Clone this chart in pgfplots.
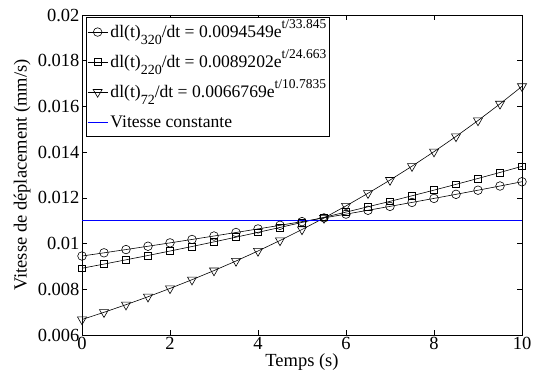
\documentclass[border=0pt]{standalone}
\usepackage{pgfplots}
\pgfplotsset{compat=1.18}
\usepackage{fontspec}
\setmainfont{Liberation Serif}
\newcommand{\sub}[1]{\raisebox{-0.42em}{\fontsize{14}{14}\selectfont #1}}
\newcommand{\sups}[1]{\raisebox{0.5em}{\fontsize{13.5}{14}\selectfont #1}}
\begin{document}
\begin{tikzpicture}
\path (0pt,0pt) rectangle (538pt,376pt);
\begin{axis}[
  at={(82pt,41pt)}, anchor=south west,
  scale only axis, width=440pt, height=320pt,
  xmin=0, xmax=10, ymin=0.006, ymax=0.02,
  xtick={0,2,4,6,8,10},
  ytick={0.006,0.008,0.01,0.012,0.014,0.016,0.018,0.02},
  yticklabels={0.006,0.008,0.01,0.012,0.014,0.016,0.018,0.02},
  scaled y ticks=false,
  tick align=inside, major tick length=5pt,
  tick style={black, line width=0.6pt},
  axis line style={line width=0.9pt},
  /pgf/number format/assume math mode=true,
  tick label style={font=\fontsize{18.5}{20}\selectfont},
  xticklabel style={yshift=1pt},
  yticklabel style={xshift=1pt},
  xlabel={Temps (s)}, ylabel={Vitesse de déplacement (mm/s)},
  label style={font=\fontsize{18.5}{20}\selectfont},
  xlabel style={at={(axis description cs:0.5,-0.084)}, anchor=center},
  ylabel style={at={(axis description cs:-0.136,0.5)}, anchor=center},
  legend cell align=left,
  legend style={at={(axis description cs:0.009,0.994)}, anchor=north west,
    font=\fontsize{17.6}{19}\selectfont, draw=black, line width=0.8pt,
    inner xsep=1pt, inner ysep=1pt,
    row sep=2.5pt, nodes={inner sep=2.5pt, text depth=6pt, text height=16.5pt}},
  legend image code/.code={\draw[#1, line width=0.6pt, mark repeat=2, mark phase=2] plot coordinates {(0pt,0pt) (10pt,0pt) (20pt,0pt)};},
]
\addplot[black, line width=0.6pt, mark=o, mark size=4.3pt, mark options={fill=white, solid}] coordinates {
(0,0.0094549) (0.5,0.0095956) (1,0.0097384) (1.5,0.0098834) (2,0.0100305)
(2.5,0.0101798) (3,0.0103312) (3.5,0.0104850) (4,0.0106411) (4.5,0.0107994)
(5,0.0109601) (5.5,0.0111232) (6,0.0112888) (6.5,0.0114568) (7,0.0116273)
(7.5,0.0118004) (8,0.0119760) (8.5,0.0121542) (9,0.0123351) (9.5,0.0125187)
(10,0.0127050)};
\addlegendentry{dl(t)\sub{320}/dt = 0.0094549e\sups{t/33.845}}
\addplot[black, line width=0.6pt, mark=square, mark size=3.4pt, mark options={fill=white, solid}] coordinates {
(0,0.0089202) (0.5,0.0091029) (1,0.0092893) (1.5,0.0094795) (2,0.0096737)
(2.5,0.0098718) (3,0.0100740) (3.5,0.0102803) (4,0.0104908) (4.5,0.0107057)
(5,0.0109249) (5.5,0.0111487) (6,0.0113770) (6.5,0.0116100) (7,0.0118478)
(7.5,0.0120905) (8,0.0123381) (8.5,0.0125908) (9,0.0128486) (9.5,0.0131118)
(10,0.0133803)};
\addlegendentry{dl(t)\sub{220}/dt = 0.0089202e\sups{t/24.663}}
\addplot[black, line width=0.6pt, mark=triangle, mark size=5.2pt, mark options={fill=white, solid, rotate=180}] coordinates {
(0,0.0066769) (0.5,0.0069938) (1,0.0073257) (1.5,0.0076734) (2,0.0080375)
(2.5,0.0084190) (3,0.0088185) (3.5,0.0092370) (4,0.0096753) (4.5,0.0101345)
(5,0.0106155) (5.5,0.0111193) (6,0.0116470) (6.5,0.0121997) (7,0.0127787)
(7.5,0.0133851) (8,0.0140203) (8.5,0.0146857) (9,0.0153826) (9.5,0.0161127)
(10,0.0168773)};
\addlegendentry{dl(t)\sub{72}/dt = 0.0066769e\sups{t/10.7835}}
\addplot[blue, line width=0.6pt, no marks] coordinates {(0,0.011) (10,0.011)};
\addlegendentry{Vitesse constante}
\end{axis}
\end{tikzpicture}
\end{document}
